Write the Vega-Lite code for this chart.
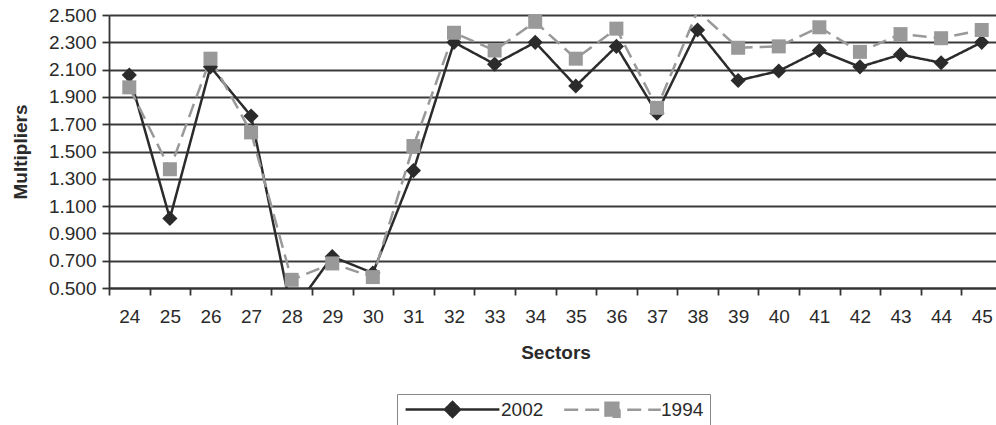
{
  "$schema": "https://vega.github.io/schema/vega-lite/v6.json",
  "width": 887,
  "height": 273,
  "autosize": {"type": "none"},
  "padding": {"left": 109, "top": 15, "right": 0, "bottom": 137},
  "background": "white",
  "config": {
    "view": {"stroke": null},
    "font": "Liberation Sans",
    "axis": {
      "labelFont": "Liberation Sans",
      "titleFont": "Liberation Sans",
      "labelFontSize": 19,
      "titleFontSize": 19,
      "titleFontWeight": "bold",
      "labelColor": "#2a2a2a",
      "titleColor": "#2a2a2a",
      "domainColor": "#333333",
      "domainWidth": 1.8,
      "tickColor": "#333333",
      "tickWidth": 1.8,
      "tickSize": 7
    }
  },
  "data": {
    "values": [
      {"sector": "24", "year": "2002", "value": 2.06}, {"sector": "24", "year": "1994", "value": 1.97},
      {"sector": "25", "year": "2002", "value": 1.01}, {"sector": "25", "year": "1994", "value": 1.37},
      {"sector": "26", "year": "2002", "value": 2.12}, {"sector": "26", "year": "1994", "value": 2.18},
      {"sector": "27", "year": "2002", "value": 1.76}, {"sector": "27", "year": "1994", "value": 1.64},
      {"sector": "28", "year": "2002", "value": 0.32}, {"sector": "28", "year": "1994", "value": 0.56},
      {"sector": "29", "year": "2002", "value": 0.73}, {"sector": "29", "year": "1994", "value": 0.68},
      {"sector": "30", "year": "2002", "value": 0.61}, {"sector": "30", "year": "1994", "value": 0.58},
      {"sector": "31", "year": "2002", "value": 1.36}, {"sector": "31", "year": "1994", "value": 1.54},
      {"sector": "32", "year": "2002", "value": 2.30}, {"sector": "32", "year": "1994", "value": 2.37},
      {"sector": "33", "year": "2002", "value": 2.14}, {"sector": "33", "year": "1994", "value": 2.24},
      {"sector": "34", "year": "2002", "value": 2.30}, {"sector": "34", "year": "1994", "value": 2.45},
      {"sector": "35", "year": "2002", "value": 1.98}, {"sector": "35", "year": "1994", "value": 2.18},
      {"sector": "36", "year": "2002", "value": 2.27}, {"sector": "36", "year": "1994", "value": 2.40},
      {"sector": "37", "year": "2002", "value": 1.78}, {"sector": "37", "year": "1994", "value": 1.82},
      {"sector": "38", "year": "2002", "value": 2.39}, {"sector": "38", "year": "1994", "value": 2.53},
      {"sector": "39", "year": "2002", "value": 2.02}, {"sector": "39", "year": "1994", "value": 2.26},
      {"sector": "40", "year": "2002", "value": 2.09}, {"sector": "40", "year": "1994", "value": 2.27},
      {"sector": "41", "year": "2002", "value": 2.24}, {"sector": "41", "year": "1994", "value": 2.41},
      {"sector": "42", "year": "2002", "value": 2.12}, {"sector": "42", "year": "1994", "value": 2.23},
      {"sector": "43", "year": "2002", "value": 2.21}, {"sector": "43", "year": "1994", "value": 2.36},
      {"sector": "44", "year": "2002", "value": 2.15}, {"sector": "44", "year": "1994", "value": 2.33},
      {"sector": "45", "year": "2002", "value": 2.30}, {"sector": "45", "year": "1994", "value": 2.39}
    ]
  },
  "encoding": {
    "x": {
      "field": "sector",
      "type": "ordinal",
      "scale": {"type": "band", "paddingInner": 0, "paddingOuter": 0, "range": [0, 893]},
      "axis": {
        "title": "Sectors",
        "labelAngle": 0,
        "tickBand": "extent",
        "grid": false,
        "labelPadding": 12,
        "titlePadding": 17
      }
    },
    "y": {
      "field": "value",
      "type": "quantitative",
      "scale": {"domain": [0.5, 2.5], "zero": false, "nice": false},
      "axis": {
        "title": "Multipliers",
        "values": [0.5, 0.7, 0.9, 1.1, 1.3, 1.5, 1.7, 1.9, 2.1, 2.3, 2.5],
        "format": ".3f",
        "grid": true,
        "gridColor": "#3a3a3a",
        "gridWidth": 1.8,
        "labelPadding": 6,
        "titlePadding": 18
      }
    },
    "color": {
      "field": "year",
      "type": "nominal",
      "sort": ["2002", "1994"],
      "scale": {"domain": ["2002", "1994"], "range": ["#2b2b2b", "#999999"]},
      "legend": {
        "title": null,
        "orient": "none",
        "legendX": 288,
        "legendY": 379,
        "direction": "horizontal",
        "strokeColor": "#888888",
        "fillColor": "white",
        "padding": 6,
        "labelFont": "Liberation Sans",
        "labelFontSize": 19,
        "labelColor": "#2a2a2a",
        "labelOffset": 39,
        "symbolOffset": 40,
        "columnPadding": 15,
        "symbolSize": 196,
        "symbolStrokeWidth": 2.5,
        "encode": {
          "symbols": {
            "update": {
              "shape": {"signal": "datum.value === '2002' ? 'M-6.7,0H6.7M0,-1.07L1.07,0L0,1.07L-1.07,0Z' : 'M-6.9,0H6.9M-1,-1H1V1H-1Z'"},
              "fill": {"signal": "datum.value === '2002' ? '#2b2b2b' : '#999999'"},
              "stroke": {"signal": "datum.value === '2002' ? '#2b2b2b' : '#999999'"},
              "strokeDash": {"signal": "datum.value === '2002' ? [1, 0] : [10, 7]"},
              "strokeWidth": {"value": 2.5},
              "size": {"value": 196},
              "opacity": {"value": 1}
            }
          }
        }
      }
    }
  },
  "layer": [
    {
      "mark": {"type": "line", "clip": true, "strokeWidth": 2.5},
      "encoding": {
        "strokeDash": {
          "field": "year",
          "type": "nominal",
          "scale": {"domain": ["2002", "1994"], "range": [[1, 0], [14, 7]]},
          "legend": null
        }
      }
    },
    {
      "transform": [{"filter": "datum.year === '2002' && datum.value >= 0.5 && datum.value <= 2.5"}],
      "mark": {"type": "point", "shape": "diamond", "filled": true, "opacity": 1, "size": 230}
    },
    {
      "transform": [{"filter": "datum.year === '1994' && datum.value >= 0.5 && datum.value <= 2.5"}],
      "mark": {"type": "point", "shape": "square", "filled": true, "opacity": 1, "size": 196}
    }
  ]
}
